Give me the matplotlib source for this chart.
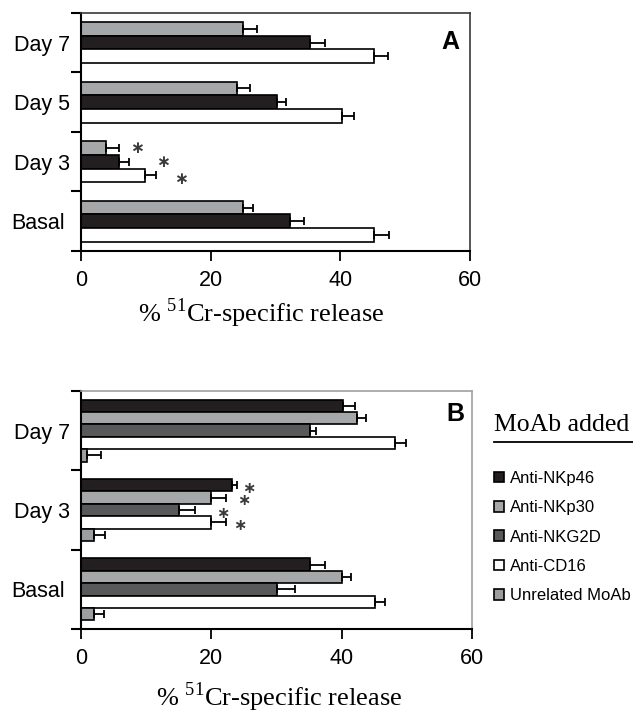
import numpy as np
import matplotlib.pyplot as plt
from matplotlib.patches import Patch
from matplotlib.lines import Line2D
from matplotlib.transforms import ScaledTranslation

plt.rcParams['font.family'] = ['Liberation Sans', 'DejaVu Sans']
plt.rcParams['mathtext.fontset'] = 'custom'
plt.rcParams['mathtext.rm'] = 'Liberation Serif'

# panel A data (Basal, Day 3, Day 5, Day 7)
days_a = ["Basal", "Day 3", "Day 5", "Day 7"]
a_gray = [25.0, 3.9, 24.0, 25.0]
a_gray_err = [1.5, 2.0, 2.1, 2.2]
a_black = [32.2, 5.9, 30.3, 35.3]
a_black_err = [2.2, 1.5, 1.3, 2.4]
a_white = [45.2, 9.9, 40.2, 45.2]
a_white_err = [2.3, 1.6, 1.9, 2.1]
# asterisks in panel A (Day 3 group)
a_star_x = [8.6, 12.6, 15.4]

# panel B data (Basal, Day 3, Day 7)
days_b = ["Basal", "Day 3", "Day 7"]
moab = ["Anti-NKp46", "Anti-NKp30", "Anti-NKG2D", "Anti-CD16", "Unrelated MoAb"]
b_nkp46 = [35.2, 23.1, 40.2]
b_nkp46_err = [2.2, 0.9, 1.8]
b_nkp30 = [40.1, 20.0, 42.3]
b_nkp30_err = [1.3, 2.2, 1.4]
b_nkg2d = [30.1, 15.1, 35.2]
b_nkg2d_err = [2.7, 2.4, 0.8]
b_cd16 = [45.1, 20.0, 48.2]
b_cd16_err = [1.5, 2.2, 1.6]
b_unrel = [2.05, 2.05, 0.9]
b_unrel_err = [1.4, 1.7, 2.2]
b_star_x = [25.8, 25.0, 21.8, 24.4]

BLACK = "#231f20"
GRAY = "#a6a7a9"
DARK = "#58595b"
UNREL = "#9d9ea0"
WHITE = "white"

fig = plt.figure(figsize=(6.33, 7.13), dpi=100)
axA = fig.add_axes([0.128, 0.648, 0.6145, 0.334])
axB = fig.add_axes([0.128, 0.1178, 0.6177, 0.334])


def bars(ax, vals, errs, pos, h, color):
    ax.barh(pos, vals, height=h, color=color, edgecolor="black", linewidth=1.2)
    ax.errorbar(vals, pos, xerr=[np.zeros(len(vals)), errs], fmt="none",
                ecolor="black", elinewidth=1.3, capsize=3, capthick=1.3)


def style(ax, labels, frame, lab_x, lab_y):
    n = len(labels)
    ax.set_xlim(0, 60)
    ax.set_ylim(-0.5, n - 0.5)
    ax.set_xticks([0, 20, 40, 60])
    ax.set_yticks(np.arange(n + 1) - 0.5)
    ax.set_yticklabels([])
    ax.set_yticks(np.arange(n), minor=True)
    ax.set_yticklabels(labels, minor=True, fontsize=15.5)
    ax.tick_params(axis="y", which="minor", length=0, pad=8)
    ax.tick_params(axis="y", which="major", length=7, width=1.5)
    ax.tick_params(axis="x", length=7, width=1.3, labelsize=15.5, pad=7)
    for s in ["left", "bottom"]:
        ax.spines[s].set_linewidth(1.5)
        ax.spines[s].set_color("black")
    for s in ["top", "right"]:
        ax.spines[s].set_linewidth(1.2)
        ax.spines[s].set_color(frame)
    ax.set_xlabel(r"% $^{51}$Cr-specific release", fontsize=19,
                  family="Liberation Serif")
    ax.xaxis.set_label_coords(lab_x, lab_y)
    # "Basal" sits a little further left in the original
    for lab in ax.get_yticklabels(minor=True):
        if lab.get_text() == "Basal":
            lab.set_transform(lab.get_transform() +
                              ScaledTranslation(-5 / 100, 0, fig.dpi_scale_trans))


# panel A
ya = np.arange(len(days_a))
ha = 0.23
bars(axA, a_gray, a_gray_err, ya + ha, ha, GRAY)
bars(axA, a_black, a_black_err, ya, ha, BLACK)
bars(axA, a_white, a_white_err, ya - ha, ha, WHITE)
style(axA, days_a, "#3a3a3a", 0.463, -0.19)
for x, dy in zip(a_star_x, [ha, 0, -ha - 0.06]):
    axA.text(x, 1 + dy, "∗", family="DejaVu Sans", fontsize=12, color="#3a3a3a",
             fontweight="bold", ha="center", va="center")
axA.text(0.949, 0.878, "A", transform=axA.transAxes, fontsize=18,
         fontweight="bold", ha="center", va="center")

# panel B
yb = np.arange(len(days_b))
hb = 0.156
series_b = [(b_nkp46, b_nkp46_err, BLACK), (b_nkp30, b_nkp30_err, GRAY),
            (b_nkg2d, b_nkg2d_err, DARK), (b_cd16, b_cd16_err, WHITE),
            (b_unrel, b_unrel_err, UNREL)]
for i, (v, e, c) in enumerate(series_b):
    bars(axB, v, e, yb + (2 - i) * hb, hb, c)
style(axB, days_b, "#a0a0a0", 0.506, -0.215)
for i, x in enumerate(b_star_x):
    axB.text(x, 1 + (2 - i) * hb - 0.04, "∗", family="DejaVu Sans", fontsize=11.5,
             color="#3a3a3a", fontweight="bold", ha="center", va="center")
axB.text(0.957, 0.903, "B", transform=axB.transAxes, fontsize=18,
         fontweight="bold", ha="center", va="center")

# legend
fig.text(494 / 633, 1 - 436 / 713, "MoAb added", family="Liberation Serif",
         fontsize=18.5, ha="left", va="bottom")
fig.add_artist(Line2D([494 / 633, 1.0], [1 - 442 / 713, 1 - 442 / 713],
                      color="black", linewidth=1.3, transform=fig.transFigure))
handles = [Patch(facecolor=c, edgecolor="black", linewidth=1.2)
           for _, _, c in series_b]
fig.legend(handles, moab, loc="upper left",
           bbox_to_anchor=(494 / 633, 1 - 471 / 713), frameon=False,
           fontsize=12, handlelength=0.6, handleheight=0.6,
           handletextpad=0.35, labelspacing=0.86, borderpad=0, borderaxespad=0)

fig.savefig("out.png", dpi=100)
